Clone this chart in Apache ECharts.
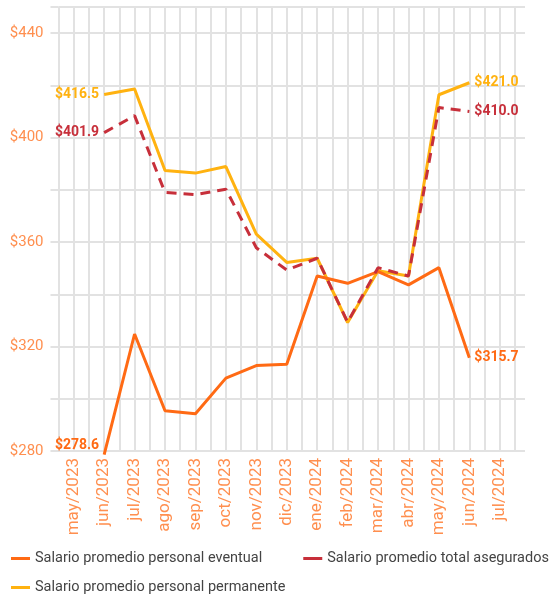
<!DOCTYPE html>
<html>
<head>
<meta charset="utf-8">
<script src="https://cdn.jsdelivr.net/npm/echarts@6/dist/echarts.min.js"></script>
<style>
  html, body { margin: 0; padding: 0; background: #fff; }
  #chart { width: 554px; height: 594px; }
</style>
</head>
<body>
<div id="chart"></div>
<script>
// meses del eje x (may/2023 y jul/2024 quedan vacíos)
const categories = ['may/2023', 'jun/2023', 'jul/2023', 'ago/2023', 'sep/2023', 'oct/2023', 'nov/2023', 'dic/2023',
  'ene/2024', 'feb/2024', 'mar/2024', 'abr/2024', 'may/2024', 'jun/2024', 'jul/2024']

const eventual = [null, 278.6, 324.8, 295.4, 294.3, 307.9, 312.7, 313.2, 347.0, 344.2, 348.7, 343.6, 350.2, 315.7, null]
const totalAsegurados = [null, 401.9, 408.4, 379.0, 378.2, 380.2, 357.8, 349.3, 353.8, 329.3, 350.2, 347.0, 411.5, 410.0, null]
const permanente = [null, 416.5, 418.6, 387.4, 386.4, 388.9, 363.0, 352.2, 353.8, 329.2, 349.0, 347.0, 416.4, 421.0, null]

const yTicks = [280, 320, 360, 400, 440]

const names = {
  eventual: 'Salario promedio personal eventual',
  total: 'Salario promedio total asegurados',
  permanente: 'Salario promedio personal permanente',
}
const colors = {
  eventual: '#ff6a14',
  total: '#c72f3a',
  permanente: '#ffb210',
}
const axisText = '#ff8f4f'
const gridColor = '#e2e2e2'

// etiqueta sólo en el primer y el último punto
const withEndLabels = (values, color, firstOffset) => {
  const first = values.findIndex(v => v != null)
  let last = values.length - 1
  while (values[last] == null) last--
  return values.map((v, i) => {
    if (i !== first && i !== last) return v
    return {
      value: v,
      label: {
        show: true,
        position: i === first ? 'left' : 'right',
        distance: 5,
        offset: i === first ? firstOffset : [0, 0],
        formatter: p => '$' + p.value.toFixed(1),
        color,
        fontSize: 14,
        fontWeight: 'bold',
        fontFamily: 'Roboto',
      },
    }
  })
}

const lineSeries = (key, values, extra, firstOffset) => ({
  name: names[key],
  type: 'line',
  xAxisIndex: 0,
  data: withEndLabels(values, colors[key], firstOffset || [0, 0]),
  symbol: 'circle',
  symbolSize: 0,
  showSymbol: true,
  clip: false,
  itemStyle: { color: colors[key] },
  lineStyle: Object.assign({ color: colors[key], width: 3 }, extra),
  emphasis: { disabled: true },
})

const legendText = { color: '#444', fontSize: 14.5, fontFamily: 'Roboto' }

const chart = echarts.init(document.getElementById('chart'))
chart.setOption({
  animation: false,
  textStyle: { fontFamily: 'Roboto' },
  grid: { left: 58.5, right: 39, top: 7, bottom: 143 },
  legend: [
    {
      data: [names.eventual, names.total],
      left: 6, top: 546,
      icon: 'rect', itemWidth: 19, itemHeight: 3, itemGap: 41,
      textStyle: legendText,
    },
    {
      data: [names.permanente],
      left: 6, top: 575,
      icon: 'rect', itemWidth: 19, itemHeight: 3,
      textStyle: legendText,
    },
  ],
  xAxis: [
    {
      type: 'category',
      data: categories,
      boundaryGap: true,
      axisLine: { lineStyle: { color: gridColor, width: 2 } },
      axisTick: { alignWithLabel: true, length: 4, lineStyle: { color: '#555', width: 1.5 } },
      axisLabel: { rotate: 90, interval: 0, margin: 7, color: axisText, fontSize: 17 },
      splitLine: { show: false },
    },
    {
      // rejilla vertical cada medio mes
      type: 'value',
      min: 0, max: 30, interval: 1,
      position: 'top',
      axisLine: { show: false },
      axisTick: { show: false },
      axisLabel: { show: false },
      splitLine: { show: true, lineStyle: { color: gridColor, width: 2 } },
    },
  ],
  yAxis: [
    {
      type: 'value',
      min: 280, max: 450, interval: 20,
      axisLine: { show: false },
      axisTick: { show: true, length: 8, lineStyle: { color: gridColor, width: 2 } },
      axisLabel: {
        margin: 15, color: axisText, fontSize: 15,
        formatter: v => yTicks.includes(v) ? '$' + v : '',
      },
      splitLine: { lineStyle: { color: gridColor, width: 2 } },
    },
    {
      type: 'value',
      min: 280, max: 450, interval: 20,
      position: 'right',
      axisLine: { show: false },
      axisTick: { show: true, length: 10, lineStyle: { color: gridColor, width: 2 } },
      axisLabel: { show: false },
      splitLine: { show: false },
    },
  ],
  series: [
    lineSeries('permanente', permanente),
    lineSeries('eventual', eventual, {}, [0, -9]),
    lineSeries('total', totalAsegurados, { type: [10, 7] }),
  ],
})
</script>
</body>
</html>
